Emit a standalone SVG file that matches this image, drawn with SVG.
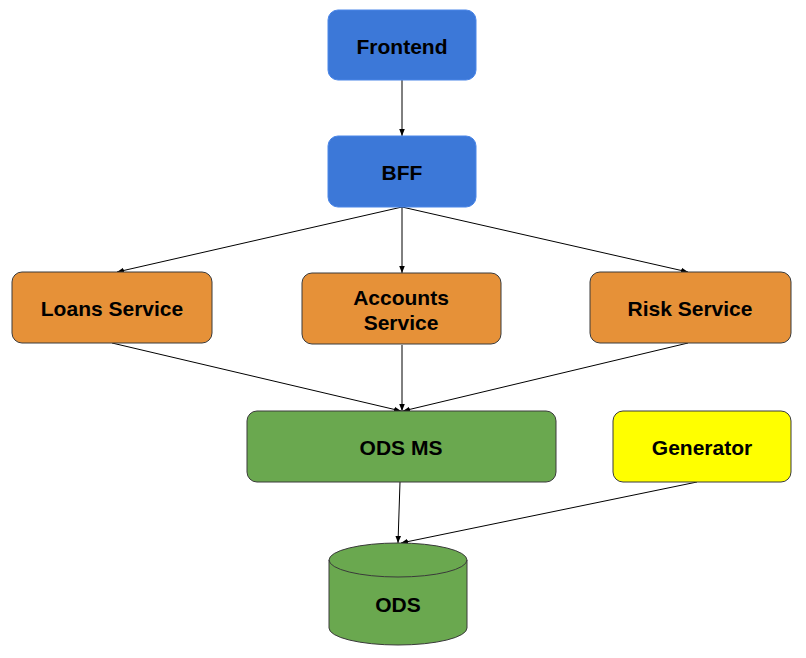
<svg xmlns="http://www.w3.org/2000/svg" width="806" height="658" viewBox="0 0 806 658">
<defs>
<marker id="ah" viewBox="0 0 10 10" refX="10" refY="5" markerWidth="7" markerHeight="7" orient="auto" markerUnits="userSpaceOnUse">
<path d="M0,1 L10,5 L0,9 z" fill="#000"/>
</marker>
</defs>
<style>
.n{stroke:#3a3a3a;stroke-width:1}
.blue{fill:#3c78d8;stroke:#4a86e8}
.orange{fill:#e69138}
.green{fill:#6aa84f}
.yellow{fill:#ffff00}
.t{font-family:"Liberation Sans",Arial,sans-serif;font-weight:bold;font-size:21px;fill:#000;text-anchor:middle;dominant-baseline:central}
.c{stroke:#000;stroke-width:1;fill:none;marker-end:url(#ah)}
</style>
<rect width="806" height="658" fill="#fff"/>
<g id="connectors">
<line class="c" x1="402" y1="80" x2="402" y2="136"/>
<line class="c" x1="402" y1="207" x2="117" y2="272"/>
<line class="c" x1="402" y1="207" x2="402" y2="273"/>
<line class="c" x1="402" y1="207" x2="688" y2="272"/>
<line class="c" x1="112" y1="343" x2="401" y2="411"/>
<line class="c" x1="402" y1="345" x2="402" y2="411"/>
<line class="c" x1="688" y1="343" x2="403" y2="411"/>
<line class="c" x1="400" y1="482" x2="398" y2="543"/>
<line class="c" x1="697" y1="482" x2="401" y2="543"/>
</g>
<g id="frontend"><rect class="n blue" x="328" y="10" width="148" height="70" rx="10"/><text class="t" x="402" y="46">Frontend</text></g>
<g id="bff"><rect class="n blue" x="328" y="136" width="148" height="71" rx="10"/><text class="t" x="402" y="172">BFF</text></g>
<g id="loans"><rect class="n orange" x="12" y="272" width="200" height="71" rx="10"/><text class="t" x="112" y="308">Loans Service</text></g>
<g id="accounts"><rect class="n orange" x="302" y="273" width="199" height="71" rx="10"/><text class="t" x="401" y="297">Accounts</text><text class="t" x="401" y="322">Service</text></g>
<g id="risk"><rect class="n orange" x="590" y="272" width="201" height="71" rx="10"/><text class="t" x="690" y="308">Risk Service</text></g>
<g id="odsms"><rect class="n green" x="247" y="411" width="309" height="71" rx="10"/><text class="t" x="401" y="447">ODS MS</text></g>
<g id="generator"><rect class="n yellow" x="613" y="411" width="178" height="71" rx="10"/><text class="t" x="702" y="447">Generator</text></g>
<g id="ods">
<path class="n green" d="M329,560 A69,17 0 0 1 467,560 L467,628 A69,17 0 0 1 329,628 Z"/>
<path class="n" fill="none" d="M329,560 A69,17 0 0 0 467,560"/>
<text class="t" x="398" y="604">ODS</text>
</g>
</svg>
